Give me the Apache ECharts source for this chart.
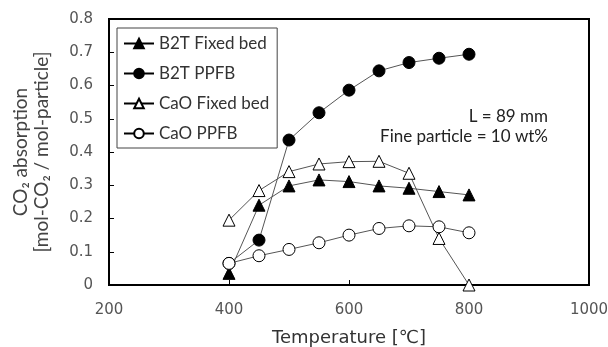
<!DOCTYPE html>
<html><head><meta charset="utf-8">
<script src="https://cdn.jsdelivr.net/npm/echarts@6/dist/echarts.min.js"></script>
<style>html,body{margin:0;padding:0;background:#fff}#c{width:608px;height:347px}</style>
</head><body><div id="c"></div>
<script>
const temperatures = [400, 450, 500, 550, 600, 650, 700, 750, 800];
const b2tFixedBed = [0.035, 0.24, 0.298, 0.316, 0.311, 0.298, 0.291, 0.281, 0.271];
const b2tPPFB = [0.065, 0.135, 0.436, 0.518, 0.586, 0.644, 0.669, 0.682, 0.694];
const caoFixedBed = [0.195, 0.284, 0.341, 0.364, 0.371, 0.372, 0.336, 0.14, 0.0];
const caoPPFB = [0.065, 0.088, 0.107, 0.127, 0.150, 0.170, 0.178, 0.175, 0.157];
const seriesNames = ['B2T Fixed bed', 'B2T PPFB', 'CaO Fixed bed', 'CaO PPFB'];
const xTicks = [200, 400, 600, 800, 1000];
const yTicks = [0, 0.1, 0.2, 0.3, 0.4, 0.5, 0.6, 0.7, 0.8];

const pair = arr => temperatures.map((t, i) => [t, arr[i]]);
const font = 'Lato, "Open Sans", sans-serif';
const tickFont = '"DejaVu Sans", sans-serif';

function mk(name, data, symbol, filled) {
  return {
    name, type: 'line', data: pair(data), symbol, symbolSize: 12,
    lineStyle: { color: '#555', width: 1 },
    itemStyle: { color: filled ? '#000' : '#fff', borderColor: '#000', borderWidth: 1 },
    emphasis: { disabled: true }, animation: false, z: filled ? 3 : 4
  };
}

const chart = echarts.init(document.getElementById('c'));
chart.setOption({
  animation: false,
  grid: { left: 109, right: 19, top: 19, bottom: 62, outerBoundsMode: 'none', containLabel: false, show: true, borderColor: '#000', borderWidth: 2, backgroundColor: 'transparent' },
  xAxis: {
    type: 'value', min: 200, max: 1000, interval: 200,
    name: 'Temperature [℃]', nameLocation: 'middle', nameGap: 44,
    nameTextStyle: { fontFamily: tickFont, fontSize: 18, color: '#333' },
    axisLine: { show: true, lineStyle: { color: '#000', width: 2 } },
    axisTick: { show: true, inside: true, length: 5, lineStyle: { color: '#000' } },
    axisLabel: { fontFamily: tickFont, fontSize: 15, color: '#555', margin: 18, formatter: v => xTicks.includes(v) ? String(v) : '' },
    splitLine: { show: false }
  },
  yAxis: {
    type: 'value', min: 0, max: 0.8, interval: 0.1,
    name: 'CO₂ absorption\n[mol-CO₂ / mol-particle]', nameLocation: 'middle', nameGap: 57, nameRotate: 90,
    nameTextStyle: { fontFamily: font, fontSize: 19, color: '#444', lineHeight: 21 },
    axisLine: { show: true, lineStyle: { color: '#000', width: 2 } },
    axisTick: { show: true, inside: true, length: 5, lineStyle: { color: '#000' } },
    axisLabel: { fontFamily: tickFont, fontSize: 15, color: '#555', margin: 16, formatter: v => { const t = yTicks.find(y => Math.abs(y - v) < 1e-9); return t === undefined ? '' : (t === 0 ? '0' : t.toFixed(1)); } },
    splitLine: { show: false }
  },
  legend: {
    orient: 'vertical', left: 117, top: 28, width: 160,
    data: seriesNames,
    itemWidth: 30, itemHeight: 12, itemGap: 13,
    padding: [7, 8, 6, 6],
    backgroundColor: '#fff', borderColor: '#444', borderWidth: 1,
    textStyle: { fontFamily: font, fontSize: 17, color: '#333' },
    lineStyle: { color: '#000' }
  },
  graphic: [
    { type: 'text', right: 60, top: 108, style: { text: 'L = 89 mm', font: '17px ' + font, fill: '#222', textAlign: 'right' } },
    { type: 'text', right: 60, top: 128, style: { text: 'Fine particle = 10 wt%', font: '17px ' + font, fill: '#222', textAlign: 'right' } }
  ],
  series: [
    mk(seriesNames[0], b2tFixedBed, 'triangle', true),
    mk(seriesNames[1], b2tPPFB, 'circle', true),
    mk(seriesNames[2], caoFixedBed, 'triangle', false),
    mk(seriesNames[3], caoPPFB, 'circle', false)
  ]
});
</script></body></html>
